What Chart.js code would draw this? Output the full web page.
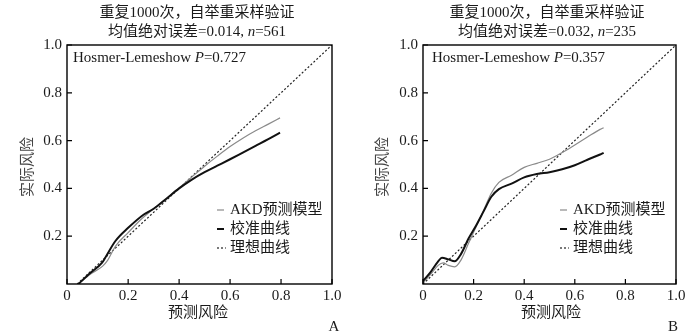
<!DOCTYPE html>
<html>
<head>
<meta charset="utf-8">
<script src="https://cdn.jsdelivr.net/npm/chart.js@4.4.1/dist/chart.umd.min.js"></script>
<style>
  html, body { margin: 0; padding: 0; background: #fff; }
  #wrap { position: relative; width: 700px; height: 336px; }
  .panel { position: absolute; top: 0; width: 350px; height: 336px; }
</style>
</head>
<body>
<div id="wrap">
  <div class="panel" style="left:0"><canvas id="chartA" width="350" height="336"></canvas></div>
  <div class="panel" style="left:350px"><canvas id="chartB" width="350" height="336"></canvas></div>
</div>
<script>
// tick labels
const xTickLabels = ["0", "0.2", "0.4", "0.6", "0.8", "1.0"];
const xTickValuesA = [-0.04, 0.2, 0.4, 0.6, 0.8, 1.0];
const xTickValuesB = [0, 0.2, 0.4, 0.6, 0.8, 1.0];
const yTickValues = [0.2, 0.4, 0.6, 0.8, 1.0];
const yTickLabels = ["0.2", "0.4", "0.6", "0.8", "1.0"];

const legendLabels = ["AKD预测模型", "校准曲线", "理想曲线"];

// ideal line
const idealX = [0, 1];
const idealY = [0, 1];

// panel A (n=561)
const modelAX = [0.005, 0.05, 0.1, 0.12, 0.15, 0.2, 0.25, 0.3, 0.35, 0.4, 0.45, 0.5, 0.55, 0.6, 0.65, 0.7, 0.75, 0.796];
const modelAY = [0, 0.04, 0.075, 0.1, 0.158, 0.215, 0.27, 0.315, 0.357, 0.402, 0.448, 0.493, 0.535, 0.575, 0.61, 0.641, 0.669, 0.695];
const calibAX = [0.005, 0.05, 0.097, 0.11, 0.15, 0.2, 0.26, 0.3, 0.35, 0.4, 0.45, 0.5, 0.55, 0.6, 0.65, 0.7, 0.75, 0.796];
const calibAY = [0, 0.045, 0.088, 0.11, 0.18, 0.235, 0.29, 0.315, 0.357, 0.4, 0.437, 0.468, 0.495, 0.522, 0.55, 0.578, 0.606, 0.633];

// panel B (n=235)
const modelBX = [0, 0.03, 0.06, 0.08, 0.1, 0.125, 0.15, 0.18, 0.21, 0.24, 0.27, 0.3, 0.35, 0.4, 0.45, 0.5, 0.55, 0.6, 0.65, 0.7, 0.714];
const modelBY = [0.005, 0.04, 0.078, 0.088, 0.078, 0.072, 0.1, 0.17, 0.24, 0.31, 0.38, 0.425, 0.455, 0.488, 0.505, 0.522, 0.55, 0.582, 0.615, 0.647, 0.654];
const calibBX = [0, 0.03, 0.06, 0.075, 0.1, 0.125, 0.15, 0.18, 0.21, 0.24, 0.27, 0.3, 0.35, 0.4, 0.45, 0.5, 0.55, 0.6, 0.65, 0.7, 0.714];
const calibBY = [0.012, 0.05, 0.095, 0.11, 0.103, 0.095, 0.125, 0.19, 0.245, 0.305, 0.365, 0.397, 0.42, 0.446, 0.46, 0.468, 0.48, 0.497, 0.52, 0.542, 0.549];

const FONT = '"Liberation Serif", "Noto Sans CJK SC", serif';
const TXT = "#1a1a1a";

function zip(xs, ys) {
  return xs.map((x, i) => ({ x: x, y: ys[i] }));
}

// draws a row of text pieces, some in italics
function richText(ctx, parts, x, y, align) {
  let total = 0;
  parts.forEach(p => {
    ctx.font = (p.i ? "italic " : "") + "15px " + FONT;
    p.w = ctx.measureText(p.t).width;
    total += p.w;
  });
  let cx = align === "center" ? x - total / 2 : x;
  ctx.textAlign = "left";
  parts.forEach(p => {
    ctx.font = (p.i ? "italic " : "") + "15px " + FONT;
    ctx.fillText(p.t, cx, y);
    cx += p.w;
  });
}

const decor = {
  id: "decor",
  afterDraw(chart) {
    const ctx = chart.ctx;
    const a = chart.chartArea;
    const p = chart.options.plugins.decor;
    const xs = chart.scales.x, ys = chart.scales.y;
    ctx.save();

    // box
    ctx.strokeStyle = "#000";
    ctx.lineWidth = 1.4;
    ctx.strokeRect(a.left, a.top, a.right - a.left, a.bottom - a.top);

    // inward ticks
    ctx.lineWidth = 1.2;
    ctx.beginPath();
    xs.ticks.forEach(t => {
      const px = xs.getPixelForValue(t.value);
      ctx.moveTo(px, a.bottom);
      ctx.lineTo(px, a.bottom - 5);
    });
    ys.ticks.forEach(t => {
      const py = ys.getPixelForValue(t.value);
      ctx.moveTo(a.left, py);
      ctx.lineTo(a.left + 5, py);
    });
    ctx.stroke();

    ctx.fillStyle = TXT;
    ctx.textBaseline = "middle";

    // titles
    richText(ctx, [{ t: "重复1000次，自举重采样验证" }], 197, 13, "center");
    richText(ctx, [{ t: "均值绝对误差=" + p.mae + ", " }, { t: "n", i: true }, { t: "=" + p.n }], 197, 32, "center");

    // Hosmer-Lemeshow
    richText(ctx, [{ t: "Hosmer-Lemeshow " }, { t: "P", i: true }, { t: "=" + p.hl }], a.left + p.hlOffset, 58, "left");

    // axis titles
    richText(ctx, [{ t: "预测风险" }], p.xTitleX, 313, "center");
    ctx.save();
    ctx.translate(p.yTitleX, 167);
    ctx.rotate(-Math.PI / 2);
    ctx.fillStyle = "#444";
    richText(ctx, [{ t: "实际风险" }], 0, 0, "center");
    ctx.restore();

    // panel letter
    richText(ctx, [{ t: p.letter }], p.letterX, 327, "center");

    // legend
    const ly = [210, 229, 248];
    const mx = p.legendX;
    ctx.lineCap = "butt";
    chart.data.datasets.forEach((ds, i) => {
      ctx.beginPath();
      ctx.strokeStyle = ds.borderColor;
      ctx.lineWidth = ds.borderWidth;
      ctx.setLineDash(ds.borderDash || []);
      ctx.moveTo(mx, ly[i]);
      ctx.lineTo(mx + (ds.borderDash ? 9 : 7), ly[i]);
      ctx.stroke();
      ctx.setLineDash([]);
      richText(ctx, [{ t: legendLabels[i] }], mx + 13, ly[i], "left");
    });

    ctx.restore();
  }
};

function makeChart(id, p) {
  return new Chart(document.getElementById(id), {
    type: "line",
    data: {
      datasets: [
        {
          label: legendLabels[0],
          data: zip(p.modelX, p.modelY),
          borderColor: "#8a8a8a",
          borderWidth: 1.2,
          pointRadius: 0,
          cubicInterpolationMode: "monotone",
          order: 1
        },
        {
          label: legendLabels[1],
          data: zip(p.calibX, p.calibY),
          borderColor: "#111111",
          borderWidth: 2,
          pointRadius: 0,
          cubicInterpolationMode: "monotone",
          order: 0
        },
        {
          label: legendLabels[2],
          data: zip(idealX, idealY),
          borderColor: "#222222",
          borderWidth: 1.2,
          borderDash: [2, 2],
          pointRadius: 0,
          order: 2
        }
      ]
    },
    options: {
      responsive: false,
      animation: false,
      layout: { padding: { top: 45, right: p.padRight, left: 0, bottom: 0 } },
      plugins: {
        legend: { display: false },
        tooltip: { enabled: false },
        decor: p
      },
      scales: {
        x: {
          type: "linear",
          min: p.xTicks[0],
          max: 1.0,
          grid: { display: false, drawTicks: false },
          border: { display: false },
          afterBuildTicks: s => { s.ticks = p.xTicks.map(v => ({ value: v })); },
          afterFit: s => { s.height = 52; },
          ticks: {
            autoSkip: false,
            maxRotation: 0,
            padding: 3,
            color: TXT,
            font: { family: FONT, size: 15 },
            callback: (v, i) => xTickLabels[i]
          }
        },
        y: {
          type: "linear",
          min: 0,
          max: 1.0,
          grid: { display: false, drawTicks: false },
          border: { display: false },
          afterBuildTicks: s => { s.ticks = yTickValues.map(v => ({ value: v })); },
          afterFit: s => { s.width = p.yWidth; },
          ticks: {
            autoSkip: false,
            padding: 5,
            color: TXT,
            font: { family: FONT, size: 15 },
            callback: (v, i) => yTickLabels[i]
          }
        }
      }
    },
    plugins: [decor]
  });
}

makeChart("chartA", {
  modelX: modelAX, modelY: modelAY, calibX: calibAX, calibY: calibAY,
  xTicks: xTickValuesA, yWidth: 67, padRight: 18,
  mae: "0.014", n: "561", hl: "0.727", hlOffset: 6,
  xTitleX: 198, yTitleX: 28, letter: "A", letterX: 334, legendX: 217
});

makeChart("chartB", {
  modelX: modelBX, modelY: modelBY, calibX: calibBX, calibY: calibBY,
  xTicks: xTickValuesB, yWidth: 73, padRight: 24,
  mae: "0.032", n: "235", hl: "0.357", hlOffset: 9,
  xTitleX: 201, yTitleX: 33, letter: "B", letterX: 323, legendX: 210
});
</script>
</body>
</html>
